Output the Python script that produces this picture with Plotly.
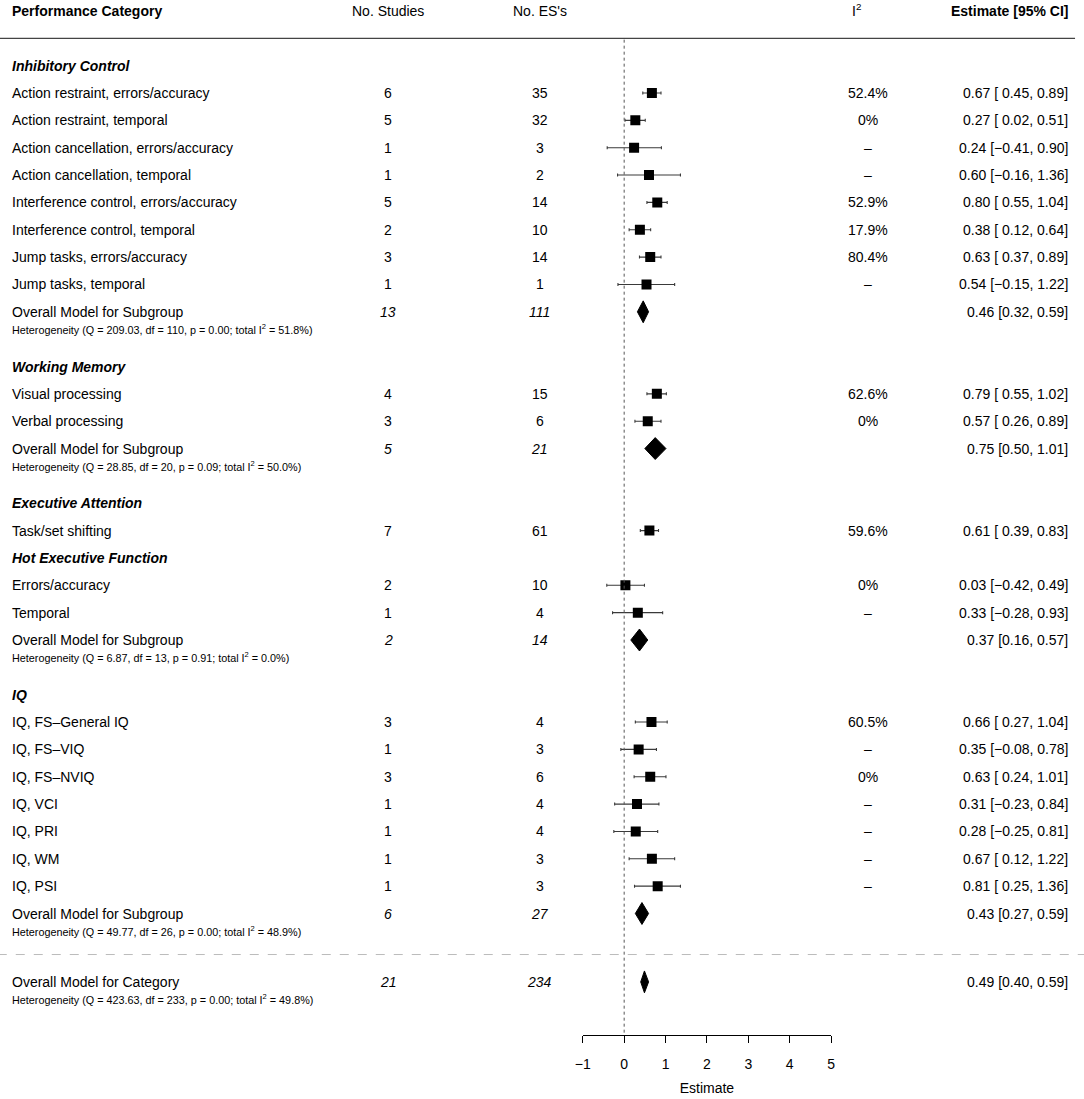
import plotly.graph_objects as go

# ---------------- data ----------------
group_names = ["Inhibitory Control", "Working Memory", "Executive Attention",
               "Hot Executive Function", "IQ"]
group_sizes = [8, 2, 1, 2, 7]
group_has_overall = [True, True, False, True, True]

row_labels = [
    "Action restraint, errors/accuracy", "Action restraint, temporal",
    "Action cancellation, errors/accuracy", "Action cancellation, temporal",
    "Interference control, errors/accuracy", "Interference control, temporal",
    "Jump tasks, errors/accuracy", "Jump tasks, temporal",
    "Visual processing", "Verbal processing",
    "Task/set shifting",
    "Errors/accuracy", "Temporal",
    "IQ, FS\u2013General IQ", "IQ, FS\u2013VIQ", "IQ, FS\u2013NVIQ", "IQ, VCI",
    "IQ, PRI", "IQ, WM", "IQ, PSI",
]
row_studies = [6, 5, 1, 1, 5, 2, 3, 1, 4, 3, 7, 2, 1, 3, 1, 3, 1, 1, 1, 1]
row_es = [35, 32, 3, 2, 14, 10, 14, 1, 15, 6, 61, 10, 4, 4, 3, 6, 4, 4, 3, 3]
row_i2 = ["52.4%", "0%", "\u2013", "\u2013", "52.9%", "17.9%", "80.4%", "\u2013",
          "62.6%", "0%", "59.6%", "0%", "\u2013", "60.5%", "\u2013", "0%",
          "\u2013", "\u2013", "\u2013", "\u2013"]
row_est = [0.67, 0.27, 0.24, 0.60, 0.80, 0.38, 0.63, 0.54, 0.79, 0.57, 0.61,
           0.03, 0.33, 0.66, 0.35, 0.63, 0.31, 0.28, 0.67, 0.81]
row_lb = [0.45, 0.02, -0.41, -0.16, 0.55, 0.12, 0.37, -0.15, 0.55, 0.26, 0.39,
          -0.42, -0.28, 0.27, -0.08, 0.24, -0.23, -0.25, 0.12, 0.25]
row_ub = [0.89, 0.51, 0.90, 1.36, 1.04, 0.64, 0.89, 1.22, 1.02, 0.89, 0.83,
          0.49, 0.93, 1.04, 0.78, 1.01, 0.84, 0.81, 1.22, 1.36]

sub_studies = [13, 5, 2, 6]
sub_es = [111, 21, 14, 27]
sub_est = [0.46, 0.75, 0.37, 0.43]
sub_lb = [0.32, 0.50, 0.16, 0.27]
sub_ub = [0.59, 1.01, 0.57, 0.59]
sub_q = ["209.03", "28.85", "6.87", "49.77"]
sub_df = [110, 20, 13, 26]
sub_p = ["0.00", "0.09", "0.91", "0.00"]
sub_i2 = ["51.8%", "50.0%", "0.0%", "48.9%"]

all_studies = 21
all_es = 234
all_est = 0.49
all_lb = 0.40
all_ub = 0.59
all_q = "423.63"
all_df = 233
all_p = "0.00"
all_i2 = "49.8%"

x_ticks = [-1, 0, 1, 2, 3, 4, 5]

# ---------------- layout helpers ----------------
W, H = 1084, 1099
ROW_PX = 27.35
ROW0_PX = 93.0
PLOT_H = 1035
FONT = "Liberation Sans, Arial, Helvetica, sans-serif"
FS = 14
FS_HET = 10.8

def px(p):
    # horizontal pixel target -> paper fraction (calibrated to the page render)
    return (p - 10.2) / 0.985 / W

def fmt(v):
    s = f"{abs(v):.2f}"
    return ("\u2212" + s) if v < 0 else s

def ci_text(e, l, u, pad):
    ls = fmt(l)
    if pad and l >= 0:
        ls = " " + ls
    return f"{fmt(e)} [{ls}, {fmt(u)}]"

# row positions
group_rows, study_rows, overall_rows = [], [], []
r = -1
for g, n in enumerate(group_sizes):
    group_rows.append(r)
    for k in range(n):
        r += 1
        study_rows.append(r)
    if group_has_overall[g]:
        r += 1
        overall_rows.append(r)
        r += 2
    else:
        r += 1
sep_row = overall_rows[-1] + 1.5
total_row = overall_rows[-1] + 2.5
HET_OFF = 0.63
DIA_H = 0.4

fig = go.Figure()

# study estimates
fig.add_trace(go.Scatter(
    x=row_est, y=study_rows, mode="markers",
    marker=dict(symbol="square", size=10, color="black", line=dict(width=0)),
    error_x=dict(type="data", symmetric=False,
                 array=[u - e for u, e in zip(row_ub, row_est)],
                 arrayminus=[e - l for e, l in zip(row_est, row_lb)],
                 color="#3a3a3a", thickness=1.1, width=1.5),
    hoverinfo="skip", showlegend=False))

# diamonds
def diamond(e, l, u, yc):
    fig.add_trace(go.Scatter(
        x=[l, e, u, e, l], y=[yc, yc - DIA_H, yc, yc + DIA_H, yc],
        mode="lines", fill="toself", fillcolor="black",
        line=dict(color="black", width=1), hoverinfo="skip", showlegend=False))

for i, yc in enumerate(overall_rows):
    diamond(sub_est[i], sub_lb[i], sub_ub[i], yc)
diamond(all_est, all_lb, all_ub, total_row)

# ---------------- text ----------------
ann = []
def txt(p, row, text, anchor="center", size=FS):
    ann.append(dict(x=px(p), xref="paper", y=row, yref="y", text=text,
                    xanchor=anchor, yanchor="middle", showarrow=False,
                    font=dict(family=FONT, size=size, color="black")))

X_LAB, X_ST, X_ES, X_I2, X_CI = 12, 389, 540, 867, 1068
hdr = -3
txt(X_LAB, hdr, "<b>Performance Category</b>", "left")
txt(X_ST, hdr, "No. Studies")
txt(X_ES, hdr, "No. ES's")
txt(855, hdr - 0.03, "I<sup>2</sup>")
txt(X_CI, hdr, "<b>Estimate [95% CI]</b>", "right")

for g, gr in enumerate(group_rows):
    txt(X_LAB, gr, f"<b><i>{group_names[g]}</i></b>", "left")

for i, yr in enumerate(study_rows):
    txt(X_LAB, yr, row_labels[i], "left")
    txt(X_ST, yr, str(row_studies[i]))
    txt(X_ES, yr, str(row_es[i]))
    txt(X_I2, yr, row_i2[i])
    txt(X_CI, yr, ci_text(row_est[i], row_lb[i], row_ub[i], True), "right")

def overall_text(yr, label, ns, nes, e, l, u, q, df, p, i2):
    txt(X_LAB, yr, label, "left")
    txt(X_ST, yr, f"<i>{ns}</i>")
    txt(X_ES, yr, f"<i>{nes}</i>")
    txt(X_CI, yr, ci_text(e, l, u, False), "right")
    txt(X_LAB, yr + HET_OFF,
        f"Heterogeneity (Q = {q}, df = {df}, p = {p}; total I<sup>2</sup> = {i2})",
        "left", FS_HET)

for i, yr in enumerate(overall_rows):
    overall_text(yr, "Overall Model for Subgroup", sub_studies[i], sub_es[i],
                 sub_est[i], sub_lb[i], sub_ub[i], sub_q[i], sub_df[i],
                 sub_p[i], sub_i2[i])
overall_text(total_row, "Overall Model for Category", all_studies, all_es,
             all_est, all_lb, all_ub, all_q, all_df, all_p, all_i2)

# ---------------- lines ----------------
y_top = -ROW0_PX / ROW_PX
y_bot = (PLOT_H - ROW0_PX) / ROW_PX
shapes = [
    dict(type="line", xref="paper", yref="y", x0=px(0), x1=px(1073),
         y0=-2, y1=-2, line=dict(color="#444444", width=1.3)),
    dict(type="line", xref="paper", yref="y", x0=px(0), x1=px(1084),
         y0=sep_row, y1=sep_row, line=dict(color="#bbbbbb", width=1, dash="dash")),
    dict(type="line", xref="x", yref="y", x0=0, x1=0, y0=-1.95, y1=y_bot,
         line=dict(color="#555555", width=1, dash="dot")),
]

fig.update_layout(
    width=W, height=H, margin=dict(l=0, r=0, t=0, b=H - PLOT_H),
    paper_bgcolor="white", plot_bgcolor="white",
    annotations=ann, shapes=shapes, showlegend=False,
    font=dict(family=FONT, size=FS, color="black"),
    xaxis=dict(domain=[px(582.7), px(830.0)], range=[-1, 5],
               tickvals=x_ticks, ticks="outside", ticklen=7, tickwidth=1,
               tickcolor="black", showline=True, linecolor="black", linewidth=1,
               showgrid=False, zeroline=False, ticklabelstandoff=9,
               tickfont=dict(family=FONT, size=FS, color="black"),
               title=dict(text="Estimate", standoff=12,
                          font=dict(family=FONT, size=FS, color="black"))),
    yaxis=dict(range=[y_bot, y_top], visible=False, showgrid=False,
               zeroline=False),
)

fig.write_html("out.html",
               config={"displayModeBar": False},
               post_script="document.body.style.margin='0';"
                           "document.body.style.overflow='hidden';")
